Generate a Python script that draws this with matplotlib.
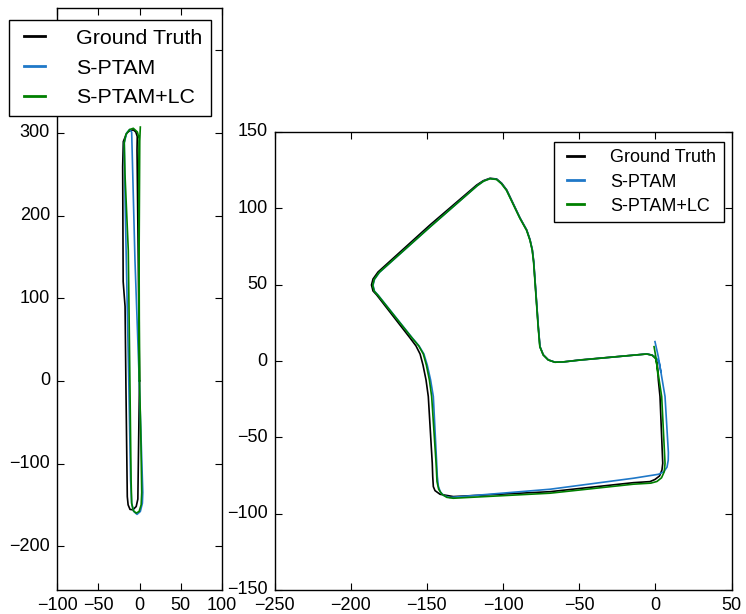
import matplotlib
matplotlib.use('Agg')
import matplotlib.pyplot as plt

plt.style.use('classic')
plt.rcParams['font.family'] = ['Liberation Sans', 'DejaVu Sans']
plt.rcParams['figure.facecolor'] = 'white'
plt.rcParams['savefig.facecolor'] = 'white'

GT_COLOR = 'k'
SPTAM_COLOR = '#1f78c8'
LC_COLOR = '#008000'
labels = ['Ground Truth', 'S-PTAM', 'S-PTAM+LC']

# Sequence 06 (narrow loop), metres
gt06_x = [0.0, -1.5, -3.0, -2.7, -4.5, -7.5, -12.0, -15.5, -19.6, -20.4, -19.8, -17.5, -16.4,
          -14.8, -13.8, -11.5, -8.0, -4.0, -2.0, -1.0, 0.0]
gt06_y = [0, 146, 279, 295.5, 301, 303.6, 302.5, 299.6, 289.5, 259, 120, 90, -11,
          -140, -150, -155.5, -156, -152, -143, -70, 0]

sptam06_x = [-0.3, -5.5, -9.5, -12.0, -15.5, -18.5, -17.5, -13.0, -10.8, -9.5, -7.0, -3.0,
             1.0, 3.5, 4.0, -0.3]
sptam06_y = [0, 146, 301, 304, 300, 288, 220, 0, -120, -148, -158, -161.5,
             -158, -148, -135, 0]

lc06_x = [0.0, -0.8, -0.5, -2.5, -7.5, -12.0, -16.5, -18.5, -17.6, -13.6, -11.5, -10.2,
          -9.5, -7.5, -4.0, -0.5, 2.0, 2.7, 1.5, 0.0, -0.5, 0.3, 1.0]
lc06_y = [0, 150, 293, 301, 305.5, 304, 298, 288, 250, 158, -11, -120,
          -148, -157, -160, -158, -150, -135, -60, 0, 150, 290, 307]

# Sequence 07 (L-shaped loop), metres
gt07_x = [-0.3, 1.2, 1.9, 3.0, 4.8, 4.3, 2.7, -0.3, -3.6, -14.5, -69.2, -132.7,
          -141.4, -144.7, -145.8, -146.2, -146.5, -149.1, -150.6, -152.6, -154.5, -157.2,
          -161.1, -183.0, -185.4, -186.4, -185.4, -182.1, -148.0, -117.3, -113.0, -108.6,
          -104.2, -100.9, -97.6, -88.9, -84.5, -82.3, -80.8, -79.9, -76.9, -75.8,
          -73.6, -70.3, -65.9, -60.5, -49.5, -5.7, -2.3, -0.3]
gt07_y = [2.7, -1.5, -12.4, -23.3, -67.0, -71.3, -75.3, -77.6, -79.0, -79.7, -85.6, -88.8,
          -87.3, -84.9, -82.3, -75.7, -67.0, -23.3, -12.4, -2.6, 4.6, 9.9,
          15.1, 43.3, 45.9, 49.8, 53.7, 58.3, 89.1, 115.3, 118.1, 119.7,
          119.2, 116.4, 112.0, 93.7, 85.8, 79.3, 72.7, 64.9, 22.5, 9.4,
          4.0, 0.7, -0.8, -0.6, 0.7, 4.6, 3.9, 2.7]

sptam07_x = [-0.3, 1.9, 6.3, 8.5, 8.4, 7.6, 5.5, 2.0, -14.5, -69.2, -135.0,
             -138.8, -141.2, -142.5, -143.2, -143.6, -145.8, -147.6, -149.8, -152.0, -155.2,
             -159.6, -182.0, -184.4, -185.4, -184.4, -181.2, -147.3, -116.9, -112.7, -108.5,
             -104.2, -101.0, -97.7, -88.9, -84.5, -82.3, -80.8, -79.9, -76.9, -75.8,
             -73.6, -70.3, -65.9, -60.5, -49.5, -5.7, -2.0, 0.8, 2.4, 3.6]
sptam07_y = [12.7, 2.8, -23.3, -60.0, -65.0, -69.5, -72.5, -74.2, -76.8, -84.0, -89.4,
             -88.2, -85.8, -82.0, -75.5, -67.0, -23.3, -12.4, -2.6, 4.6, 9.9,
             15.1, 43.1, 45.7, 49.6, 53.5, 58.0, 88.4, 114.9, 117.9, 119.5,
             119.0, 116.2, 111.9, 93.6, 85.7, 79.2, 72.6, 64.9, 22.5, 9.4,
             4.0, 0.7, -0.8, -0.6, 0.6, 4.6, 3.8, 1.5, -0.6, -7.2]

lc07_x = [-0.9, 0.2, 1.0, 4.1, 6.3, 5.8, 4.0, 1.0, -3.0, -14.5, -69.2, -132.7,
          -137.0, -140.2, -142.3, -143.4, -144.0, -146.9, -148.4, -150.4, -152.4, -155.4,
          -159.8, -182.2, -184.6, -185.6, -184.6, -181.4, -147.4, -117.0, -112.8, -108.6,
          -104.3, -101.1, -97.8, -89.0, -84.6, -82.4, -80.9, -80.0, -77.0, -75.9,
          -73.7, -70.4, -66.0, -60.5, -49.5, -5.7, -2.3, 0.2, 1.0, 1.6]
lc07_y = [9.4, 3.0, -3.0, -23.3, -67.0, -72.5, -76.5, -78.9, -80.0, -80.7, -86.6, -89.9,
          -89.3, -87.2, -84.0, -79.0, -67.0, -23.3, -12.4, -2.6, 4.6, 9.9,
          15.1, 43.1, 45.7, 49.6, 53.5, 58.0, 88.3, 114.8, 117.8, 119.4,
          118.9, 116.1, 111.8, 93.5, 85.6, 79.2, 72.6, 64.9, 22.5, 9.4,
          4.0, 0.7, -0.8, -0.6, 0.6, 4.6, 3.8, 1.5, -3.0, -9.0]


def plot_run(ax, gt, sptam, lc):
    ax.plot(gt[0], gt[1], color=GT_COLOR, lw=1.2, label=labels[0])
    ax.plot(sptam[0], sptam[1], color=SPTAM_COLOR, lw=1.2, label=labels[1])
    ax.plot(lc[0], lc[1], color=LC_COLOR, lw=1.2, label=labels[2])


def style_axes(ax, fontsize):
    ax.tick_params(direction='in', top=True, right=True, labelsize=fontsize,
                   length=5, width=0.8, pad=5)
    for spine in ax.spines.values():
        spine.set_linewidth(1.0)


def add_legend(ax, fig, loc, anchor, fontsize, spacing):
    leg = ax.legend(loc=loc, bbox_to_anchor=anchor, bbox_transform=fig.transFigure,
                    borderaxespad=0, fontsize=fontsize, handlelength=1.55,
                    handletextpad=1.15, labelspacing=spacing, borderpad=0.42, fancybox=False)
    leg.get_frame().set_linewidth(1.0)
    for line in leg.get_lines():
        line.set_linewidth(2.0)
    return leg


fig = plt.figure(figsize=(7.46, 6.14), dpi=100)

ax1 = fig.add_axes([57 / 746, 24 / 614, 165 / 746, 582 / 614])
plot_run(ax1, (gt06_x, gt06_y), (sptam06_x, sptam06_y), (lc06_x, lc06_y))
ax1.set_xlim(-100, 100)
ax1.set_ylim(-253, 451)
ax1.set_xticks([-100, -50, 0, 50, 100])
ax1.set_yticks([-200, -100, 0, 100, 200, 300, 400])
style_axes(ax1, 13)
add_legend(ax1, fig, 'upper left', (9 / 746, 1 - 20 / 614), 15.4, 0.5)

ax2 = fig.add_axes([274.6 / 746, 24 / 614, 457 / 746, 458 / 614])
plot_run(ax2, (gt07_x, gt07_y), (sptam07_x, sptam07_y), (lc07_x, lc07_y))
ax2.set_xlim(-250, 50)
ax2.set_ylim(-150, 150)
ax2.set_xticks([-250, -200, -150, -100, -50, 0, 50])
ax2.set_yticks([-150, -100, -50, 0, 50, 100, 150])
style_axes(ax2, 13)
add_legend(ax2, fig, 'upper right', (724 / 746, 1 - 141.7 / 614), 13, 0.4)

fig.savefig('out.png', dpi=100)
